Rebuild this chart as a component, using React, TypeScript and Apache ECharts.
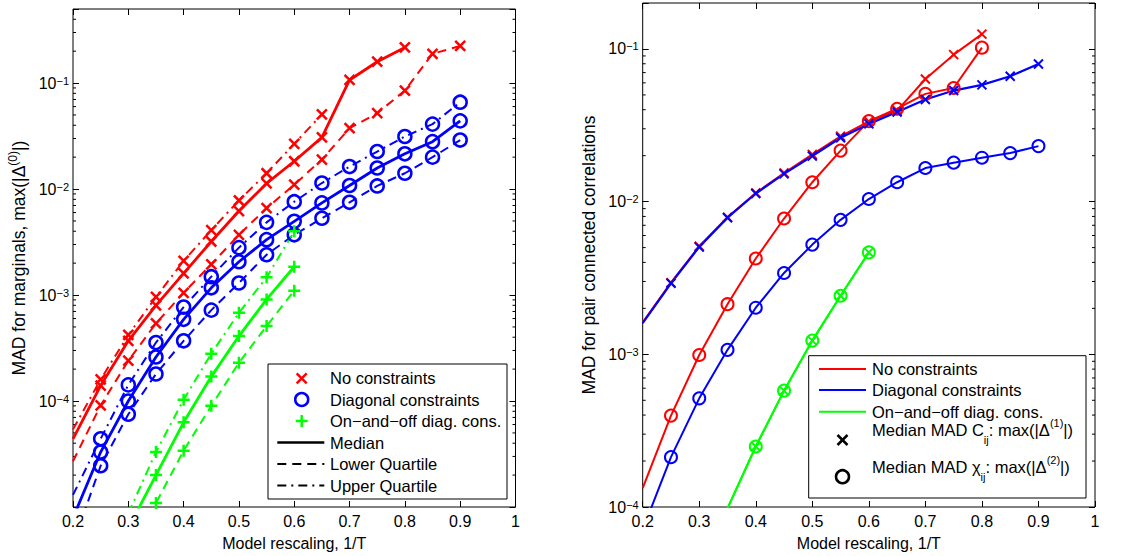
import React, { useEffect, useRef } from 'react';
import * as echarts from 'echarts';

const FONT = '"Liberation Sans", Arial, Helvetica, sans-serif';
const RED = '#ff0000';
const BLUE = '#0000ff';
const GREEN = '#00ff00';
const BLACK = '#000000';

// ---------- Left panel: MAD for marginals ----------
const xLeft = [0.2, 0.25, 0.3, 0.35, 0.4, 0.45, 0.5, 0.55, 0.6, 0.65, 0.7, 0.75, 0.8, 0.85, 0.9];
// first value of each series = line entering from the plot edge (no marker)
const noConsMedian = [4.4e-5, 1.4e-4, 3.7e-4, 8.0e-4, 1.6e-3, 3.2e-3, 6.2e-3, 1.13e-2, 1.83e-2, 3.07e-2, 0.107, 0.159, 0.217, null, null];
const noConsLower = [2.7e-5, 9.1e-5, 2.4e-4, 5.4e-4, 1.05e-3, 1.95e-3, 3.7e-3, 6.6e-3, 1.1e-2, 1.9e-2, 3.75e-2, 5.2e-2, 8.5e-2, 0.189, 0.224];
const noConsUpper = [5.4e-5, 1.6e-4, 4.2e-4, 9.6e-4, 2.1e-3, 4.1e-3, 7.8e-3, 1.41e-2, 2.67e-2, 5.07e-2, null, null, null, null, null];
const diagMedian = [7.9e-6, 3.3e-5, 1.0e-4, 2.6e-4, 5.9e-4, 1.17e-3, 2.06e-3, 3.33e-3, 4.96e-3, 7.4e-3, 1.08e-2, 1.58e-2, 2.15e-2, 2.8e-2, 4.4e-2];
const diagLower = [4.5e-6, 2.45e-5, 7.5e-5, 1.8e-4, 3.7e-4, 7.2e-4, 1.3e-3, 2.4e-3, 3.7e-3, 5.3e-3, 7.5e-3, 1.07e-2, 1.41e-2, 2.0e-2, 2.9e-2];
const diagUpper = [1.3e-5, 4.4e-5, 1.42e-4, 3.56e-4, 7.7e-4, 1.49e-3, 2.8e-3, 4.85e-3, 7.6e-3, 1.14e-2, 1.63e-2, 2.26e-2, 3.13e-2, 4.1e-2, 6.6e-2];
const onoffMedian = [null, null, 6.3e-6, 2.0e-5, 6.3e-5, 1.7e-4, 4.1e-4, 9.1e-4, 1.85e-3, null, null, null, null, null, null];
const onoffLower = [null, null, 3.5e-6, 1.09e-5, 3.4e-5, 9.0e-5, 2.3e-4, 5.1e-4, 1.1e-3, null, null, null, null, null, null];
const onoffUpper = [null, null, 8.7e-6, 3.3e-5, 1.03e-4, 2.8e-4, 6.8e-4, 1.47e-3, 4.0e-3, null, null, null, null, null, null];

// ---------- Right panel: MAD for pair connected correlations ----------
const xRight = [0.2, 0.25, 0.3, 0.35, 0.4, 0.45, 0.5, 0.55, 0.6, 0.65, 0.7, 0.75, 0.8, 0.85, 0.9];
const noConsC = [1.62e-3, 2.95e-3, 5.1e-3, 7.9e-3, 1.14e-2, 1.54e-2, 2.04e-2, 2.68e-2, 3.35e-2, 3.95e-2, 6.36e-2, 9.18e-2, 0.125, null, null];
const noConsChi = [1.33e-4, 3.97e-4, 9.9e-4, 2.13e-3, 4.24e-3, 7.75e-3, 1.34e-2, 2.16e-2, 3.37e-2, 4.06e-2, 5.08e-2, 5.55e-2, 0.102, null, null];
const diagC = [1.6e-3, 2.92e-3, 5.05e-3, 7.85e-3, 1.13e-2, 1.52e-2, 1.99e-2, 2.62e-2, 3.23e-2, 3.86e-2, 4.67e-2, 5.34e-2, 5.82e-2, 6.62e-2, 7.97e-2];
const diagChi = [7.1e-5, 2.12e-4, 5.15e-4, 1.07e-3, 2.02e-3, 3.41e-3, 5.23e-3, 7.6e-3, 1.04e-2, 1.34e-2, 1.66e-2, 1.8e-2, 1.94e-2, 2.08e-2, 2.31e-2];
const onoffC = [null, null, null, 9.8e-5, 2.49e-4, 5.78e-4, 1.23e-3, 2.42e-3, 4.65e-3, null, null, null, null, null, null];
const onoffChi = [null, null, null, 9.8e-5, 2.49e-4, 5.78e-4, 1.23e-3, 2.42e-3, 4.65e-3, null, null, null, null, null, null];

const xTicks = { min: 0.2, max: 1, interval: 0.1 };
const leftY = { min: 1e-5, max: 0.5, hideExp: -5 };
const rightY = { min: 1e-4, max: 0.2, hideExp: 99 };

const SYM_X = 'path://M0,0L10,10M10,0L0,10';
const SYM_PLUS = 'path://M5,0L5,10M0,5L10,5';

const DASH: number[] = [9, 6];
const DASHDOT: number[] = [9, 5, 2, 5];

function pts(xs: number[], ys: (number | null)[]) {
  const out: any[] = [];
  let first = true;
  ys.forEach((y, i) => {
    if (y == null) return;
    const item: any = { value: [xs[i], y] };
    if (first) {
      item.symbol = 'none';
      first = false;
    }
    out.push(item);
  });
  return out;
}

function lineSeries(xs: number[], ys: (number | null)[], color: string, symbol: string, symbolSize: number,
  lineWidth: number, markerWidth: number, dash: any, axisIdx: number) {
  return {
    type: 'line',
    xAxisIndex: axisIdx,
    yAxisIndex: axisIdx,
    data: pts(xs, ys),
    symbol,
    symbolSize,
    showSymbol: true,
    showAllSymbol: true,
    clip: true,
    silent: true,
    emphasis: { disabled: true },
    lineStyle: { color, width: lineWidth, type: dash },
    itemStyle: { color: 'rgba(0,0,0,0)', borderColor: color, borderWidth: markerWidth },
    z: 3,
  };
}

function minorTicks(min: number, max: number) {
  const out: number[][] = [];
  for (let e = -6; e < 1; e++) {
    for (let m = 2; m <= 9; m++) {
      const v = m * Math.pow(10, e);
      if (v > min * 1.0001 && v < max * 0.9999) out.push([0.2, v]);
    }
  }
  return out;
}

function minorSeries(axisIdx: number, min: number, max: number) {
  return {
    type: 'custom',
    xAxisIndex: axisIdx,
    yAxisIndex: axisIdx,
    silent: true,
    data: minorTicks(min, max),
    renderItem: (params: any, api: any) => {
      const cs = params.coordSys;
      const p = api.coord([api.value(0), api.value(1)]);
      const y = p[1];
      return {
        type: 'group',
        children: [
          { type: 'line', shape: { x1: cs.x, y1: y, x2: cs.x + 3, y2: y }, style: { stroke: BLACK, lineWidth: 1 } },
          { type: 'line', shape: { x1: cs.x + cs.width, y1: y, x2: cs.x + cs.width - 3, y2: y }, style: { stroke: BLACK, lineWidth: 1 } },
        ],
      };
    },
    z: 1,
  };
}

const supRich = { fontSize: 11, lineHeight: 11, padding: [0, 0, 11, 0], verticalAlign: 'top', fontFamily: FONT, color: BLACK };
const nameSupRich = { fontSize: 12, lineHeight: 12, padding: [0, 0, 12, 0], verticalAlign: 'top', fontFamily: FONT, color: BLACK };

function xAxes(gridIndex: number) {
  return [
    {
      gridIndex, type: 'value', position: 'bottom', ...xTicks,
      axisLine: { show: false },
      axisTick: { inside: true, length: 6, lineStyle: { color: BLACK, width: 1 } },
      axisLabel: {
        margin: 6, fontSize: 16, fontFamily: FONT, color: BLACK,
        formatter: (v: number) => String(Number(v.toFixed(1))),
      },
      splitLine: { show: false },
      name: 'Model rescaling, 1/T', nameLocation: 'middle', nameGap: 28,
      nameTextStyle: { fontSize: 16, fontFamily: FONT, color: BLACK },
    },
    {
      gridIndex, type: 'value', position: 'top', ...xTicks,
      axisLine: { show: false },
      axisTick: { inside: true, length: 6, lineStyle: { color: BLACK, width: 1 } },
      axisLabel: { show: false },
      splitLine: { show: false },
    },
  ];
}

function yAxes(gridIndex: number, cfg: { min: number; max: number; hideExp: number }, name: string) {
  const fmt = (v: number) => {
    const e = Math.log10(v);
    const r = Math.round(e);
    if (Math.abs(e - r) > 1e-3 || r === cfg.hideExp) return '';
    return `{b|10}{s|${r < 0 ? '\u2212' + -r : r}}`;
  };
  return [
    {
      gridIndex, type: 'log', logBase: 10, position: 'left', min: cfg.min, max: cfg.max,
      axisLine: { show: false },
      axisTick: { inside: true, length: 6, lineStyle: { color: BLACK, width: 1 } },
      axisLabel: {
        margin: 4, formatter: fmt, color: BLACK,
        rich: { b: { fontSize: 16, lineHeight: 16, fontFamily: FONT, color: BLACK }, s: supRich },
      },
      splitLine: { show: false },
      minorTick: { show: false },
      name, nameLocation: 'middle', nameGap: 42,
      nameTextStyle: { fontSize: 17.5, lineHeight: 24, fontFamily: FONT, color: BLACK, rich: { s: nameSupRich } },
    },
    {
      gridIndex, type: 'log', logBase: 10, position: 'right', min: cfg.min, max: cfg.max,
      axisLine: { show: false },
      axisTick: { inside: true, length: 6, lineStyle: { color: BLACK, width: 1 } },
      axisLabel: { show: false },
      splitLine: { show: false },
    },
  ];
}

const LEG_FS = 16.5;

function txt(x: number, y: number, text: string, extra: any = {}) {
  return {
    type: 'text', x, y, z: 102,
    style: { text, fontSize: LEG_FS, fontFamily: FONT, fill: BLACK, align: 'left', verticalAlign: 'middle', ...extra },
  };
}
function seg(x1: number, y1: number, x2: number, y2: number, stroke: string, lineWidth: number, lineDash?: number[]) {
  return { type: 'line', z: 102, shape: { x1, y1, x2, y2 }, style: { stroke, lineWidth, lineDash: lineDash || null } };
}
function xMark(cx: number, cy: number, h: number, stroke: string, lw: number) {
  return [seg(cx - h, cy - h, cx + h, cy + h, stroke, lw), seg(cx - h, cy + h, cx + h, cy - h, stroke, lw)];
}
function plusMark(cx: number, cy: number, h: number, stroke: string, lw: number) {
  return [seg(cx - h, cy, cx + h, cy, stroke, lw), seg(cx, cy - h, cx, cy + h, stroke, lw)];
}
function circ(cx: number, cy: number, r: number, stroke: string, lw: number) {
  return { type: 'circle', z: 102, shape: { cx, cy, r }, style: { fill: 'none', stroke, lineWidth: lw } };
}

function legendGraphics() {
  const els: any[] = [];
  // left legend
  els.push({ type: 'rect', z: 101, shape: { x: 268, y: 364, width: 239, height: 135 }, style: { fill: '#fff', stroke: BLACK, lineWidth: 1 } });
  const lx = 301.7, tx = 330;
  const rows = [378.3, 399.5, 421, 442.5, 464, 485.5];
  els.push(...xMark(lx, rows[0], 5, RED, 2.5));
  els.push(txt(tx, rows[0], 'No constraints'));
  els.push(circ(lx, rows[1], 6.5, BLUE, 2.5));
  els.push(txt(tx, rows[1], 'Diagonal constraints'));
  els.push(...plusMark(lx, rows[2], 6, GREEN, 2.5));
  els.push(txt(tx, rows[2], 'On\u2212and\u2212off diag. cons.'));
  els.push(seg(277.3, rows[3], 324.3, rows[3], BLACK, 2.5));
  els.push(txt(tx, rows[3], 'Median'));
  els.push(seg(277.3, rows[4], 324.3, rows[4], BLACK, 2, DASH));
  els.push(txt(tx, rows[4], 'Lower Quartile'));
  els.push(seg(277.3, rows[5], 324.3, rows[5], BLACK, 2, DASHDOT));
  els.push(txt(tx, rows[5], 'Upper Quartile'));

  // right legend
  els.push({ type: 'rect', z: 101, shape: { x: 808.7, y: 355.7, width: 277.3, height: 142.3 }, style: { fill: '#fff', stroke: BLACK, lineWidth: 1 } });
  const rtx = 872, rx1 = 819, rx2 = 866, rmx = 842.5;
  els.push(seg(rx1, 369, rx2, 369, RED, 2));
  els.push(txt(rtx, 369, 'No constraints'));
  els.push(seg(rx1, 390, rx2, 390, BLUE, 2));
  els.push(txt(rtx, 390, 'Diagonal constraints'));
  els.push(seg(rx1, 411.7, rx2, 411.7, GREEN, 2));
  els.push(txt(rtx, 411.7, 'On\u2212and\u2212off diag. cons.'));
  // all tokens share the same total height (33) so vertical alignment does not matter
  const rich = {
    t: { fontSize: LEG_FS, lineHeight: 16, padding: [8.5, 0, 8.5, 0], fontFamily: FONT, color: BLACK },
    sup: { fontSize: 11, lineHeight: 11, padding: [4, 0, 18, 0], fontFamily: FONT, color: BLACK },
    sub: { fontSize: 11, lineHeight: 11, padding: [21, 0, 1, 0], fontFamily: FONT, color: BLACK },
  };
  els.push(...xMark(rmx, 440, 5, BLACK, 2.5));
  els.push(txt(rtx, 430, '{t|Median MAD C}{sub|ij}{t|: max(|\u0394}{sup|(1)}{t||)}', { rich }));
  els.push(circ(rmx, 476.7, 6.5, BLACK, 2.5));
  els.push(txt(rtx, 466.7, '{t|Median MAD \u03c7}{sub|ij}{t|: max(|\u0394}{sup|(2)}{t||)}', { rich }));
  return els;
}

function buildOption() {
  const series: any[] = [
    minorSeries(0, leftY.min, leftY.max),
    minorSeries(2, rightY.min, rightY.max),
    // left panel
    lineSeries(xLeft, noConsMedian, RED, SYM_X, 10, 2.8, 2.5, 'solid', 0),
    lineSeries(xLeft, noConsLower, RED, SYM_X, 10, 2, 2.5, DASH, 0),
    lineSeries(xLeft, noConsUpper, RED, SYM_X, 10, 2, 2.5, DASHDOT, 0),
    lineSeries(xLeft, diagMedian, BLUE, 'circle', 13, 2.8, 2.5, 'solid', 0),
    lineSeries(xLeft, diagLower, BLUE, 'circle', 13, 2, 2.5, DASH, 0),
    lineSeries(xLeft, diagUpper, BLUE, 'circle', 13, 2, 2.5, DASHDOT, 0),
    lineSeries(xLeft, onoffMedian, GREEN, SYM_PLUS, 12, 2.8, 2.5, 'solid', 0),
    lineSeries(xLeft, onoffLower, GREEN, SYM_PLUS, 12, 2, 2.5, DASH, 0),
    lineSeries(xLeft, onoffUpper, GREEN, SYM_PLUS, 12, 2, 2.5, DASHDOT, 0),
    // right panel
    lineSeries(xRight, noConsChi, RED, 'circle', 12, 2, 2, 'solid', 2),
    lineSeries(xRight, noConsC, RED, SYM_X, 9, 2, 2, 'solid', 2),
    lineSeries(xRight, diagChi, BLUE, 'circle', 12, 2, 2, 'solid', 2),
    lineSeries(xRight, diagC, BLUE, SYM_X, 9, 2.2, 2, 'solid', 2),
    lineSeries(xRight, onoffChi, GREEN, 'circle', 12, 2, 2, 'solid', 2),
    lineSeries(xRight, onoffC, GREEN, SYM_X, 9, 2, 2, 'solid', 2),
  ];
  return {
    animation: false,
    backgroundColor: '#ffffff',
    grid: [
      { left: 73, top: 9, width: 442.5, height: 498, show: true, borderColor: BLACK, borderWidth: 1, backgroundColor: 'transparent' },
      { left: 642.7, top: 3, width: 452.3, height: 504, show: true, borderColor: BLACK, borderWidth: 1, backgroundColor: 'transparent' },
    ],
    xAxis: [...xAxes(0), ...xAxes(1)],
    yAxis: [
      ...yAxes(0, leftY, 'MAD for marginals, max(|\u0394{s|(0)}|)'),
      ...yAxes(1, rightY, 'MAD for pair connected correlations'),
    ],
    series,
    graphic: { elements: legendGraphics() },
  };
}

export default function App() {
  const ref = useRef<HTMLDivElement>(null);
  useEffect(() => {
    if (!ref.current) return;
    const chart = echarts.init(ref.current, null, { renderer: 'svg' });
    chart.setOption(buildOption() as any);
    return () => chart.dispose();
  }, []);
  return (
    <div
      ref={ref}
      style={{ position: 'fixed', left: 0, top: 0, width: 1135, height: 556, background: '#fff' }}
    />
  );
}
